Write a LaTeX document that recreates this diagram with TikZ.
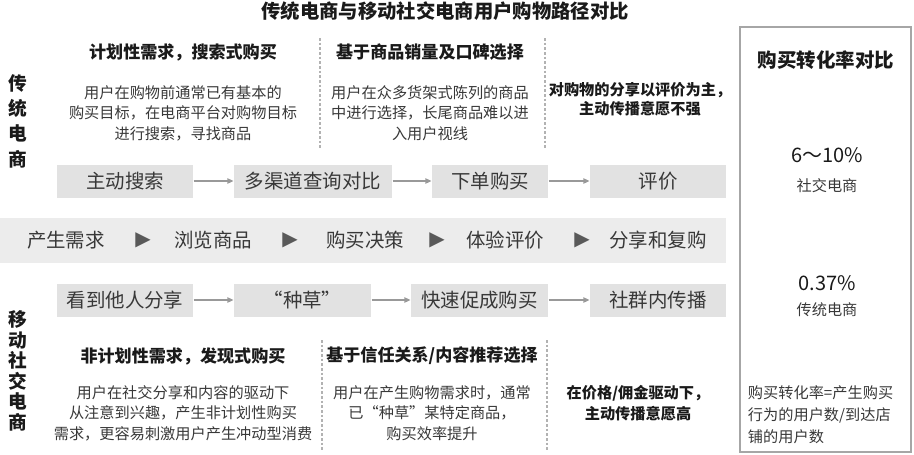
\documentclass[tikz,border=0pt]{standalone}
\usepackage{fontspec}
\setmainfont{Noto Sans CJK SC}
\newfontfamily\symfont{DejaVu Sans}
\usetikzlibrary{arrows.meta, positioning}
\definecolor{cgrey}{HTML}{999999}
\definecolor{cbox}{HTML}{E2E2E2}
\definecolor{cband}{HTML}{ECECEC}
\definecolor{ctext}{HTML}{383838}
\definecolor{cdark}{HTML}{1A1A1A}
\definecolor{cframe}{HTML}{A6A6A6}
\tikzset{
  every picture/.style={line width=0.8pt},
  title/.style={font=\fontsize{14.5pt}{17pt}\selectfont\bfseries, text=cdark},
  side/.style={font=\fontsize{14pt}{#1}\selectfont\bfseries, text=cdark, align=center, inner sep=0pt},
  head/.style={font=\fontsize{12.8pt}{15pt}\selectfont\bfseries, text=cdark, align=center},
  note/.style={font=\fontsize{11.4pt}{15.4pt}\selectfont\bfseries, text=cdark, align=center},
  body/.style={font=\fontsize{11.4pt}{15.4pt}\selectfont, text=ctext, align=center},
  stepbox/.style={fill=cbox, text=ctext, inner sep=0pt, minimum height=24.75pt,
    minimum width=#1, font=\fontsize{14.6pt}{17pt}\selectfont},
  stepbox/.default=102pt,
  flowtxt/.style={text=ctext, font=\fontsize{14.6pt}{17pt}\selectfont},
  tri/.style={text=black!65, font=\fontsize{15pt}{17pt}\symfont, inner sep=0pt},
  arrow/.style={-{Triangle[length=4.5pt, width=4pt]}, draw=cgrey, line width=0.9pt},
  sep/.style={draw=black!30, dash pattern=on 2pt off 1.5pt, line width=0.8pt},
  big/.style={font=\fontsize{15pt}{18pt}\selectfont, text=cdark},
}

\begin{document}
\begin{tikzpicture}[x=0.75pt, y=-0.75pt]
  \useasboundingbox (0,0) rectangle (914,454);
  \node[title] (title) at (445,11) {传统电商与移动社交电商用户购物路径对比};
  % side labels
  \node[side=19pt] (lbtrad) at (18,121) {传\\统\\电\\商};
  \node[side=15.4pt] (lbsocial) at (18,371) {移\\动\\社\\交\\电\\商};
  % upper notes
  \node[head] (hplan) at (183,52) {计划性需求，搜索式购买};
  \node[body] (bplan) at (183,113) {用户在购物前通常已有基本的\\购买目标，在电商平台对购物目标\\进行搜索，寻找商品};
  \node[head] (hsales) at (430,52) {基于商品销量及口碑选择};
  \node[body] (bsales) at (430,113) {用户在众多货架式陈列的商品\\中进行选择，长尾商品难以进\\入用户视线};
  \node[note, font=\fontsize{11.4pt}{14.3pt}\selectfont\bfseries] (nrate) at (640,99) {对购物的分享以评价为主，\\主动传播意愿不强};
  \draw[sep] (320,38) -- (320,148);
  \draw[sep] (545,38) -- (545,148);
  % traditional path
  \node[stepbox] (search) at (125,181) {主动搜索};
  \node[stepbox=118.5pt] (compare) at (313,181) {多渠道查询对比};
  \node[stepbox=87pt] (order) at (490,181) {下单购买};
  \node[stepbox] (review) at (658,181) {评价};
  \draw[arrow] (search) -- (compare);
  \draw[arrow] (compare) -- (order);
  \draw[arrow] (order) -- (review);
  % common path
  \node[fill=cband, minimum width=544.5pt, minimum height=33.75pt, inner sep=0pt] (band) at (363,240.5) {};
  \node[flowtxt] (need) at (66,240.5) {产生需求};
  \node[flowtxt] (browse) at (213,240.5) {浏览商品};
  \node[flowtxt] (decide) at (365,240.5) {购买决策};
  \node[flowtxt] (exp) at (505,240.5) {体验评价};
  \node[flowtxt] (share) at (658,240.5) {分享和复购};
  \foreach \x/\n in {143/1, 290/2, 437/3, 582/4}
    \node[tri] (tri\n) at (\x,240.5) {▶};
  % social path
  \node[stepbox] (see) at (125,300) {看到他人分享};
  \node[stepbox=102.75pt] (grass) at (302.5,300) {“种草”};
  \node[stepbox=102.75pt] (quick) at (479.5,300) {快速促成购买};
  \node[stepbox] (spread) at (658,300) {社群内传播};
  \draw[arrow] (see) -- (grass);
  \draw[arrow] (grass) -- (quick);
  \draw[arrow] (quick) -- (spread);
  % lower notes
  \node[head] (hfind) at (183,356) {非计划性需求，发现式购买};
  \node[body] (bfind) at (183,413) {用户在社交分享和内容的驱动下\\从注意到兴趣，产生非计划性购买\\需求，更容易刺激用户产生冲动型消费};
  \node[head] (htrust) at (432,356) {基于信任关系/内容推荐选择};
  \node[body] (btrust) at (432,413) {用户在产生购物需求时，通常\\已“种草”某特定商品，\\购买效率提升};
  \node[note] (nprice) at (638,403) {在价格/佣金驱动下，\\主动传播意愿高};
  \draw[sep] (322,340) -- (322,452);
  \draw[sep] (547,340) -- (547,452);
  % conversion
  \node[draw=cframe, line width=0.9pt, minimum width=128.25pt, minimum height=318.75pt, inner sep=0pt] (conv) at (825.5,239.5) {};
  \node[head, font=\fontsize{14.6pt}{17pt}\selectfont\bfseries] (convtitle) at (826,60) {购买转化率对比};
  \node[big] (vsocial) at (827,155) {6～10\%};
  \node[body] (lsocial) at (827,186) {社交电商};
  \node[big] (vtrad) at (827,283) {0.37\%};
  \node[body] (ltrad) at (827,310) {传统电商};
  \node[body, align=left, anchor=west, font=\fontsize{11.4pt}{16.5pt}\selectfont] (formula) at (743,415) {购买转化率=产生购买\\行为的用户数/到达店\\铺的用户数};
\end{tikzpicture}
\end{document}
